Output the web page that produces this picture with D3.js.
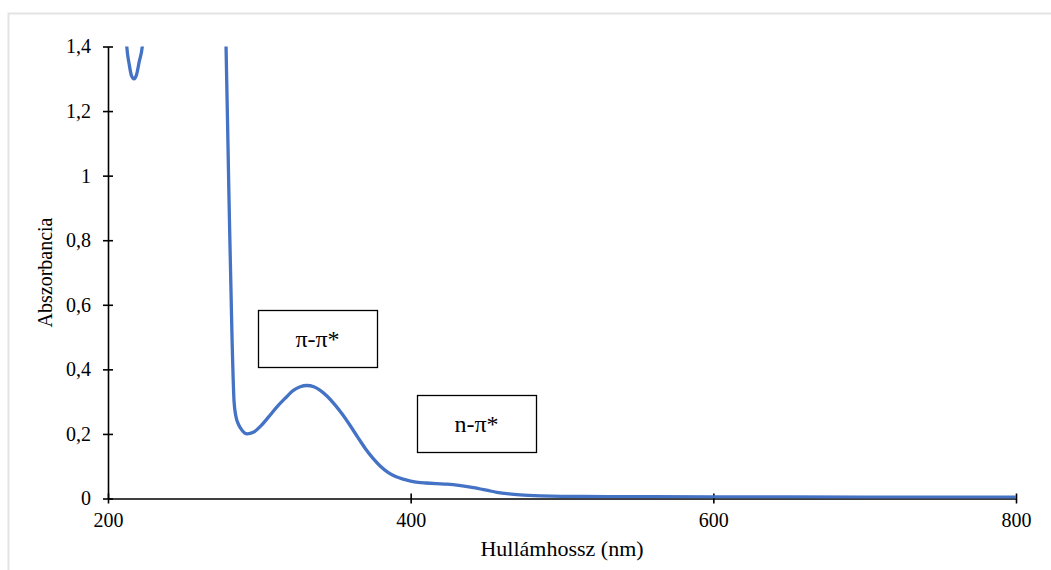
<!DOCTYPE html>
<html>
<head>
<meta charset="utf-8">
<script src="https://cdn.jsdelivr.net/npm/d3@7/dist/d3.min.js"></script>
<style>
  html, body { margin: 0; padding: 0; background: #fff; }
  svg { display: block; }
  text { font-family: "Liberation Serif", "Times New Roman", serif; fill: #000; }
</style>
</head>
<body>
<svg id="chart" width="1051" height="570"></svg>
<script>
// UV-Vis spectrum: wavelength (nm) and absorbance
const wavelengths = [211, 212.4, 214, 215.5, 217.2, 219, 220.5, 222.9, 224, 240, 260, 276, 277.5,
  278, 280, 282, 283.3, 284.5, 286, 288, 291.9, 296, 301, 306, 311.5, 317, 322.5, 327, 331.4,
  336, 340, 345, 350, 355, 360, 365, 370, 375, 380, 385, 390, 395, 400, 405, 410, 417, 424, 433,
  441.5, 450, 457, 465, 472.4, 485.6, 500, 530, 560, 600, 650, 700, 750, 800];
const absorbance = [1.52, 1.40, 1.345, 1.31, 1.300, 1.315, 1.35, 1.41, 1.5, 2.5, 2.8, 1.8, 1.5,
  1.40, 0.92, 0.49, 0.30, 0.255, 0.232, 0.215, 0.200, 0.205, 0.225, 0.252, 0.283, 0.31, 0.335, 0.346, 0.350,
  0.346, 0.336, 0.316, 0.290, 0.260, 0.226, 0.190, 0.155, 0.125, 0.100, 0.081, 0.068, 0.060, 0.054, 0.050,
  0.048, 0.046, 0.0445, 0.040, 0.034, 0.026, 0.019, 0.014, 0.011, 0.008, 0.0065, 0.006, 0.0055, 0.005,
  0.0048, 0.0045, 0.0042, 0.004];

const xTicks = [200, 400, 600, 800];
const yTicks = [0, 0.2, 0.4, 0.6, 0.8, 1, 1.2, 1.4];

const annotations = [
  { label: "π-π*", x0: 258, x1: 377, y0: 310, y1: 367 },
  { label: "n-π*", x0: 417, x1: 536, y0: 395, y1: 452 }
];

const svg = d3.select("#chart");

// outer frame
svg.append("rect")
  .attr("x", 8.5).attr("y", 13.5)
  .attr("width", 1060).attr("height", 580)
  .attr("fill", "none").attr("stroke", "#e3e3e3").attr("stroke-width", 2);

const x = d3.scaleLinear().domain([200, 800]).range([108, 1016]);
const y = d3.scaleLinear().domain([0, 1.4]).range([498.5, 46.5]);

svg.append("defs").append("clipPath").attr("id", "plot-clip")
  .append("rect")
  .attr("x", x(200)).attr("y", y(1.4))
  .attr("width", x(800) - x(200) + 2).attr("height", y(0) - y(1.4));

const fmt = v => String(v).replace(".", ",");

// y axis
const yAxis = svg.append("g").attr("transform", `translate(${x(200)},0)`)
  .call(d3.axisLeft(y).tickValues(yTicks).tickFormat(fmt).tickSize(0).tickPadding(17));
yAxis.select(".domain").attr("stroke", "#000").attr("stroke-width", 1.6);
yAxis.selectAll(".tick text").attr("font-size", 20).attr("font-family", "Liberation Serif");
yAxis.selectAll(".tick").append("line")
  .attr("x1", -5).attr("x2", 5).attr("stroke", "#000").attr("stroke-width", 1.6);

// x axis
const xAxis = svg.append("g").attr("transform", `translate(0,${y(0)})`)
  .call(d3.axisBottom(x).tickValues(xTicks).tickFormat(d3.format("d")).tickSize(0).tickPadding(14));
xAxis.select(".domain").attr("stroke", "#000").attr("stroke-width", 1.6);
xAxis.selectAll(".tick text").attr("font-size", 20).attr("font-family", "Liberation Serif");
xAxis.selectAll(".tick").append("line")
  .attr("y1", -5).attr("y2", 5).attr("stroke", "#000").attr("stroke-width", 1.6);

// spectrum line
const pts = wavelengths.map((w, i) => [w, absorbance[i]]);
const line = d3.line().x(d => x(d[0])).y(d => y(d[1])).curve(d3.curveMonotoneX);
svg.append("path")
  .datum(pts)
  .attr("clip-path", "url(#plot-clip)")
  .attr("d", line)
  .attr("fill", "none")
  .attr("stroke", "#4472C4")
  .attr("stroke-width", 3.3)
  .attr("stroke-linejoin", "round");

// axis titles
svg.append("text")
  .attr("x", (x(200) + x(800)) / 2).attr("y", 556)
  .attr("text-anchor", "middle").attr("font-size", 22)
  .text("Hullámhossz (nm)");

svg.append("text")
  .attr("transform", `translate(52,${(y(0) + y(1.4)) / 2}) rotate(-90)`)
  .attr("text-anchor", "middle").attr("font-size", 20)
  .text("Abszorbancia");

// transition labels
const ann = svg.append("g");
annotations.forEach(a => {
  ann.append("rect")
    .attr("x", a.x0 + 0.5).attr("y", a.y0 + 0.5)
    .attr("width", a.x1 - a.x0).attr("height", a.y1 - a.y0)
    .attr("fill", "#fff").attr("stroke", "#000").attr("stroke-width", 1.3);
  ann.append("text")
    .attr("x", (a.x0 + a.x1) / 2).attr("y", (a.y0 + a.y1) / 2 + 8)
    .attr("text-anchor", "middle").attr("font-size", 24)
    .text(a.label);
});
</script>
</body>
</html>
